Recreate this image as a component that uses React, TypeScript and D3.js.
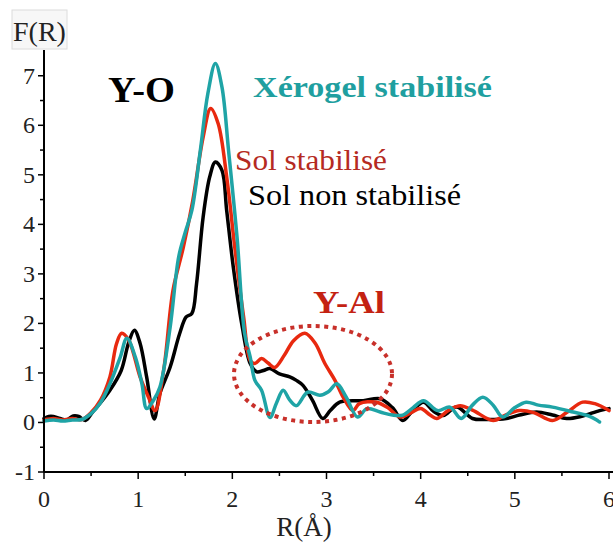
import React from "react";
import * as d3 from "d3";

const blackR = [0, 0.05, 0.1, 0.17, 0.24, 0.31, 0.37, 0.44, 0.52, 0.6, 0.7, 0.82, 0.9, 0.96, 1.02, 1.09, 1.17, 1.23, 1.34, 1.44, 1.51, 1.57, 1.62, 1.69, 1.76, 1.82, 1.89, 1.94, 2.01, 2.1, 2.19, 2.26, 2.33, 2.4, 2.5, 2.61, 2.68, 2.75, 2.85, 2.96, 3.04, 3.14, 3.39, 3.57, 3.7, 3.81, 3.92, 4.03, 4.14, 4.24, 4.38, 4.55, 4.7, 4.91, 5.05, 5.23, 5.4, 5.55, 5.7, 5.9, 6.0];
const blackF = [0.08, 0.12, 0.12, 0.08, 0.05, 0.13, 0.12, 0.04, 0.22, 0.4, 0.65, 1.05, 1.62, 1.86, 1.6, 0.92, 0.07, 0.58, 1.12, 1.79, 2.13, 2.2, 2.8, 4.15, 4.96, 5.26, 5.09, 4.28, 3.14, 1.99, 1.19, 1.02, 1.05, 1.09, 0.98, 0.92, 0.85, 0.75, 0.45, 0.08, 0.24, 0.41, 0.44, 0.48, 0.3, 0.04, 0.25, 0.41, 0.22, 0.14, 0.31, 0.08, 0.06, 0.08, 0.15, 0.21, 0.15, 0.08, 0.12, 0.24, 0.28];

const redR = [0, 0.1, 0.2, 0.3, 0.4, 0.5, 0.6, 0.7, 0.77, 0.825, 0.9, 1.02, 1.11, 1.18, 1.27, 1.37, 1.48, 1.58, 1.69, 1.77, 1.85, 1.94, 2.03, 2.12, 2.19, 2.24, 2.31, 2.38, 2.45, 2.55, 2.65, 2.77, 2.88, 2.98, 3.09, 3.18, 3.28, 3.35, 3.53, 3.65, 3.78, 3.9, 4.0, 4.1, 4.17, 4.3, 4.42, 4.55, 4.77, 4.9, 5.05, 5.2, 5.4, 5.55, 5.72, 5.85, 6.0];
const redF = [0.05, 0.08, 0.05, 0.08, 0.06, 0.2, 0.45, 0.92, 1.59, 1.8, 1.66, 0.92, 0.51, 0.24, 1.05, 2.67, 3.54, 4.48, 5.76, 6.34, 6.03, 4.96, 3.47, 2.13, 1.25, 1.19, 1.29, 1.2, 1.11, 1.35, 1.65, 1.8, 1.6, 1.2, 0.85, 0.5, 0.24, 0.38, 0.41, 0.3, 0.11, 0.2, 0.28, 0.15, 0.08, 0.25, 0.34, 0.25, 0.04, 0.15, 0.24, 0.2, 0.04, 0.2, 0.41, 0.38, 0.24];

const tealR = [0, 0.1, 0.2, 0.3, 0.4, 0.5, 0.6, 0.7, 0.81, 0.88, 0.97, 1.04, 1.09, 1.16, 1.23, 1.34, 1.43, 1.5, 1.57, 1.66, 1.74, 1.82, 1.89, 1.96, 2.05, 2.13, 2.19, 2.24, 2.31, 2.4, 2.47, 2.54, 2.61, 2.68, 2.8, 2.93, 3.02, 3.11, 3.21, 3.33, 3.43, 3.57, 3.7, 3.81, 3.92, 4.03, 4.18, 4.31, 4.43, 4.55, 4.66, 4.77, 4.87, 5.0, 5.12, 5.25, 5.4, 5.62, 5.8, 5.9];
const tealF = [0.03, 0.05, 0.03, 0.05, 0.06, 0.18, 0.4, 0.78, 1.32, 1.7, 1.32, 0.78, 0.28, 0.44, 0.71, 1.93, 3.34, 3.84, 4.28, 5.49, 6.64, 7.25, 6.77, 5.49, 3.74, 1.8, 1.32, 0.85, 0.65, 0.1, 0.4, 0.65, 0.45, 0.34, 0.61, 0.55, 0.62, 0.78, 0.51, 0.11, 0.28, 0.21, 0.15, 0.15, 0.3, 0.44, 0.24, 0.31, 0.08, 0.35, 0.51, 0.35, 0.11, 0.3, 0.41, 0.35, 0.31, 0.21, 0.12, 0.01];

const xTicks = [0, 1, 2, 3, 4, 5, 6];
const yTicks = [-1, 0, 1, 2, 3, 4, 5, 6, 7];

const W = 613;
const H = 545;
const FONT = "'Liberation Serif', 'DejaVu Serif', serif";

export default function App() {
  const x = d3.scaleLinear().domain([0, 6]).range([44, 609]);
  const y = d3.scaleLinear().domain([-1, 7.5]).range([472, 51]);
  const line = d3
    .line<[number, number]>()
    .x((d) => x(d[0]))
    .y((d) => y(d[1]))
    .curve(d3.curveCatmullRom.alpha(0.5));

  const series = [
    { r: blackR, f: blackF, color: "#000000" },
    { r: redR, f: redF, color: "#e8290f" },
    { r: tealR, f: tealF, color: "#1fa4a6" },
  ];

  const xMinor = d3.range(0, 6.01, 0.5);
  const yMinor = d3.range(-1, 7.01, 0.5);

  return (
    <svg width={W} height={H} style={{ position: "absolute", left: 0, top: 0, background: "#fff" }}>
      <rect x={0} y={0} width={W} height={H} fill="#fff" />
      {/* F(R) label box */}
      <rect x={12} y={10} width={55} height={39} fill="#f7f7f7" stroke="#dcdcdc" strokeWidth={1} />
      <text x={39.5} y={41} textAnchor="middle" fontFamily={FONT} fontSize={28} fill="#222">F(R)</text>

      {/* curves */}
      {series.map((s, i) => (
        <path
          key={i}
          d={line(s.r.map((v, j) => [v, s.f[j]] as [number, number])) || ""}
          fill="none"
          stroke={s.color}
          strokeWidth={3.5}
          strokeLinejoin="round"
          strokeLinecap="round"
        />
      ))}

      {/* axes */}
      <line x1={x(0)} x2={x(0)} y1={50} y2={y(-1)} stroke="#000" strokeWidth={2} />
      <line x1={x(0)} x2={613} y1={y(-1)} y2={y(-1)} stroke="#000" strokeWidth={2} />
      {yMinor.map((v) => {
        const major = Math.abs(v - Math.round(v)) < 1e-6;
        return (
          <line key={"ym" + v} x1={x(0) - (major ? 6 : 4)} x2={x(0)} y1={y(v)} y2={y(v)} stroke="#000" strokeWidth={1.5} />
        );
      })}
      {xMinor.map((v) => {
        const major = Math.abs(v - Math.round(v)) < 1e-6;
        return (
          <line key={"xm" + v} x1={x(v)} x2={x(v)} y1={y(-1)} y2={y(-1) + (major ? 7 : 4)} stroke="#000" strokeWidth={1.5} />
        );
      })}
      {yTicks.map((v) => (
        <text key={"yt" + v} x={35} y={y(v) + 8} textAnchor="end" fontFamily={FONT} fontSize={24} fill="#222">
          {v}
        </text>
      ))}
      {xTicks.map((v) => (
        <text key={"xt" + v} x={x(v)} y={507} textAnchor="middle" fontFamily={FONT} fontSize={24} fill="#222">
          {v}
        </text>
      ))}
      <text x={304} y={536} textAnchor="middle" fontFamily={FONT} fontSize={27} fill="#222">R(Å)</text>

      {/* annotations */}
      <text x={108} y={102} fontFamily={FONT} fontSize={35} fontWeight="bold" fill="#000" textLength={67} lengthAdjust="spacingAndGlyphs">Y-O</text>
      <text x={253} y={97} fontFamily={FONT} fontSize={29} fontWeight="bold" fill="#1f9fa0" textLength={239} lengthAdjust="spacingAndGlyphs">Xérogel stabilisé</text>
      <text x={235} y={170} fontFamily={FONT} fontSize={30} fill="#b52a22" textLength={152} lengthAdjust="spacingAndGlyphs">Sol stabilisé</text>
      <text x={248} y={205} fontFamily={FONT} fontSize={30} fill="#000" textLength={213} lengthAdjust="spacingAndGlyphs">Sol non stabilisé</text>
      <text x={313} y={313} fontFamily={FONT} fontSize={32} fontWeight="bold" fill="#c42212" textLength={72} lengthAdjust="spacingAndGlyphs">Y-Al</text>
      <ellipse cx={313} cy={374} rx={79} ry={48} fill="none" stroke="#c8302a" strokeWidth={4} strokeDasharray="4 4.5" />
    </svg>
  );
}
